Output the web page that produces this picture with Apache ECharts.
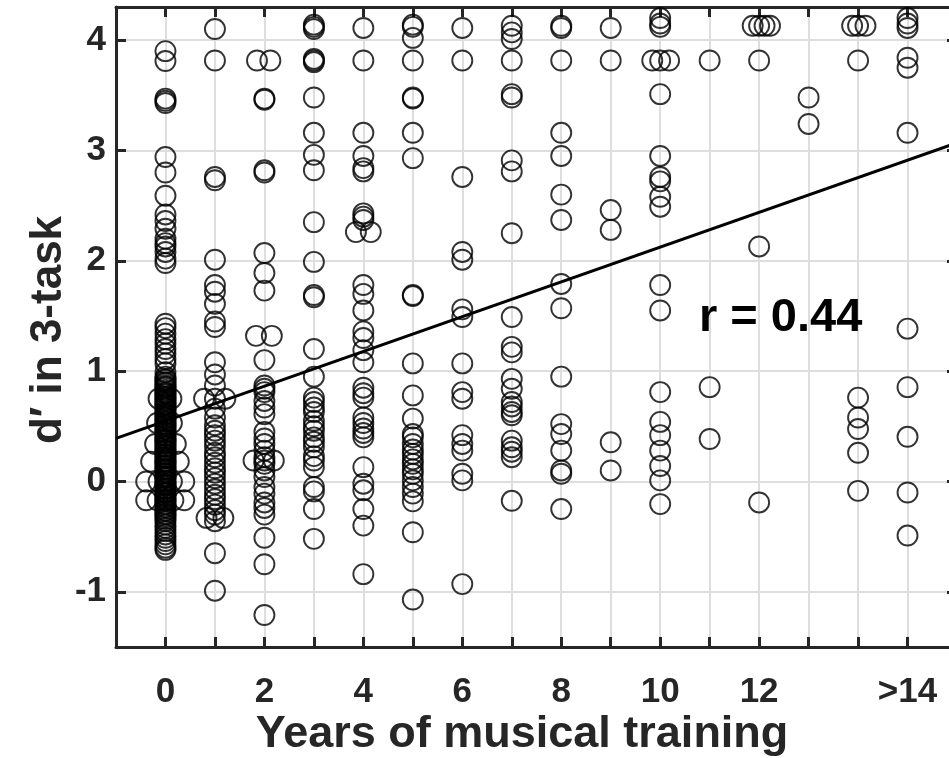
<!DOCTYPE html>
<html>
<head>
<meta charset="utf-8">
<script src="https://cdn.jsdelivr.net/npm/echarts@6/dist/echarts.min.js"></script>
<style>
  html, body { margin: 0; padding: 0; background: #ffffff; }
  #chart { width: 949px; height: 758px; }
</style>
</head>
<body>
<div id="chart"></div>
<script>
// Years of musical training (column positions; 15 is the ">14" group)
const years = [0, 1, 2, 3, 4, 5, 6, 7, 8, 9, 10, 11, 12, 13, 14, 15];

// d' scores in the 3-task, one list per training group
const dp0 = [3.90, 3.81, 3.47, 3.45, 3.43, 2.94, 2.80, 2.59, 2.42, 2.36, 2.29, 2.20, 2.16, 2.13, 2.08, 2.02, 1.98,
  1.43, 1.39, 1.34, 1.29, 1.25, 1.20, 1.16, 1.11, 1.07, 0.99, 0.95,
  0.93, 0.92, 0.90, 0.89, 0.87, 0.86, 0.85, 0.83, 0.81, 0.80, 0.79, 0.77, 0.76, 0.74, 0.73, 0.71, 0.70, 0.69,
  0.67, 0.66, 0.64, 0.62, 0.61, 0.60, 0.58, 0.57, 0.55, 0.54, 0.52, 0.51, 0.50, 0.48, 0.47, 0.45, 0.44, 0.42,
  0.41, 0.39, 0.38, 0.37, 0.35, 0.34, 0.32, 0.31, 0.29, 0.28, 0.27, 0.25, 0.24, 0.22, 0.21, 0.19, 0.18, 0.17,
  0.15, 0.14, 0.12, 0.11, 0.10, 0.08, 0.07, 0.05, 0.04, 0.03, 0.01, 0.00, -0.02, -0.03, -0.04, -0.06, -0.07,
  -0.09, -0.10, -0.11, -0.13, -0.14, -0.16, -0.17, -0.18, -0.20, -0.21, -0.23, -0.24, -0.26, -0.27, -0.29,
  -0.30, -0.32, -0.34, -0.36, -0.39, -0.42, -0.45, -0.48, -0.51, -0.54, -0.57, -0.60, -0.62];
const dp1 = [4.10, 3.815, 2.76, 2.73, 2.01, 1.78, 1.72, 1.61, 1.45, 1.40, 1.08, 0.97, 0.87, 0.75, 0.66, 0.58,
  0.51, 0.46, 0.42, 0.37, 0.32, 0.26, 0.22, 0.17, 0.12, 0.08, 0.03, -0.02, -0.07, -0.12, -0.16, -0.21, -0.26,
  -0.30, -0.36, -0.65, -0.99];
const dp2 = [3.47, 3.46, 2.82, 2.80, 2.07, 1.89, 1.73, 1.10, 0.87, 0.84, 0.81, 0.73, 0.67, 0.61, 0.45, 0.39,
  0.34, 0.28, 0.22, 0.19, 0.16, 0.10, 0.04, -0.05, -0.11, -0.19, -0.24, -0.30, -0.51, -0.75, -1.21];
const dp3 = [4.14, 4.12, 4.10, 3.83, 3.815, 3.80, 3.48, 3.16, 2.96, 2.82, 2.35, 1.99, 1.69, 1.67, 1.20, 0.95,
  0.76, 0.72, 0.67, 0.63, 0.55, 0.50, 0.46, 0.40, 0.36, 0.31, 0.23, 0.19, 0.13, -0.05, -0.09, -0.25, -0.52];
const dp4 = [4.11, 3.815, 3.16, 2.95, 2.84, 2.81, 2.43, 2.40, 2.37, 1.78, 1.70, 1.55, 1.36, 1.30, 1.19, 1.08,
  0.85, 0.80, 0.76, 0.58, 0.53, 0.48, 0.44, 0.40, 0.13, -0.02, -0.08, -0.25, -0.40, -0.84];
const dp5 = [4.14, 4.12, 4.02, 3.815, 3.48, 3.47, 3.16, 2.93, 1.69, 1.68, 1.07, 0.78, 0.57, 0.43, 0.40, 0.34,
  0.29, 0.25, 0.20, 0.16, 0.11, 0.07, 0.01, -0.05, -0.11, -0.18, -0.46, -1.07];
const dp6 = [4.11, 3.815, 2.76, 2.08, 2.01, 1.56, 1.49, 1.07, 0.81, 0.75, 0.42, 0.34, 0.28, 0.07, 0.01, -0.93];
const dp7 = [4.13, 4.07, 4.01, 3.815, 3.51, 3.48, 2.91, 2.81, 2.25, 1.49, 1.22, 1.17, 0.93, 0.84, 0.72, 0.68,
  0.63, 0.60, 0.37, 0.31, 0.27, 0.22, -0.175];
const dp8 = [4.13, 4.11, 3.815, 3.16, 2.95, 2.60, 2.37, 1.79, 1.57, 0.95, 0.52, 0.43, 0.28, 0.10, 0.07, -0.25];
const dp9 = [4.11, 3.815, 2.46, 2.28, 0.355, 0.10];
const dp10 = [4.20, 4.15, 4.12, 3.815, 3.51, 2.95, 2.76, 2.72, 2.58, 2.49, 1.78, 1.55, 0.81, 0.54, 0.42, 0.28,
  0.14, 0.01, -0.205];
const dp11 = [3.815, 0.855, 0.385];
const dp12 = [4.13, 3.815, 2.13, -0.19];
const dp13 = [3.48, 3.24];
const dp14 = [4.13, 3.815, 0.76, 0.58, 0.475, 0.26, -0.085];
const dp15 = [4.20, 4.15, 4.11, 3.84, 3.75, 3.16, 1.385, 0.855, 0.405, -0.10, -0.49];
const groups = [dp0, dp1, dp2, dp3, dp4, dp5, dp6, dp7, dp8, dp9, dp10, dp11, dp12, dp13, dp14, dp15];

// Tied scores drawn side by side around their column
const spreadYears = [-0.14, 0.12, -0.17, 0.13, -0.21, 0.21, -0.29, 0.27, -0.39, 0.38, -0.14, 0.13, -0.39, 0.38,
  -0.16, 0.16, 0.78, 1.21, 0.83, 1.17, 1.85, 2.12, 1.83, 2.15, 1.78, 2.19, 3.85, 4.15, 9.84, 10.18,
  11.87, 12.11, 12.22, 13.88, 14.15];
const spreadScores = [0.75, 0.75, 0.53, 0.53, 0.34, 0.34, 0.18, 0.18, 0.00, 0.00, 0.00, 0.00, -0.17, -0.17,
  -0.17, -0.17, 0.75, 0.75, -0.33, -0.33, 3.815, 3.815, 1.32, 1.32, 0.19, 0.19, 2.26, 2.26, 3.815, 3.815,
  4.13, 4.13, 4.13, 4.13, 4.13];

// Least-squares fit line (end points across the axis range)
const fitYears = [-1, 16];
const fitScores = [0.39, 3.07];
const corrText = 'r = 0.44';

// Labelled x ticks
const xTickValues = [0, 2, 4, 6, 8, 10, 12, 15];
const xTickText = ['0', '2', '4', '6', '8', '10', '12', '>14'];

const points = [];
groups.forEach((vals, i) => vals.forEach(v => points.push([years[i], v])));
spreadYears.forEach((x, i) => points.push([x, spreadScores[i]]));

const FONT = '"Liberation Sans", Arial, Helvetica, sans-serif';
const AXIS = '#262626';

const boxLine = { show: true, onZero: false, lineStyle: { color: AXIS, width: 3 } };
const boxTick = { show: true, inside: true, length: 10, lineStyle: { color: AXIS, width: 3 } };
const gridLine = { show: true, lineStyle: { color: '#dedede', width: 2 } };

const chart = echarts.init(document.getElementById('chart'), null, { renderer: 'canvas' });
chart.setOption({
  animation: false,
  backgroundColor: '#ffffff',
  // the plot box runs a few pixels past the right edge of the page
  grid: { left: 116, width: 841, top: 7, height: 640, containLabel: false, outerBoundsMode: 'none' },
  xAxis: [
    {
      type: 'value', min: -1, max: 16, interval: 1, position: 'bottom',
      axisLine: boxLine, axisTick: boxTick, splitLine: gridLine,
      axisLabel: {
        margin: 28, color: AXIS, fontSize: 35, fontWeight: 'bold', fontFamily: FONT,
        showMinLabel: true, showMaxLabel: true,
        formatter: v => { const k = xTickValues.indexOf(v); return k >= 0 ? xTickText[k] : ''; }
      }
    },
    {
      type: 'value', min: -1, max: 16, interval: 1, position: 'top',
      axisLine: boxLine, axisTick: boxTick, splitLine: { show: false }, axisLabel: { show: false }
    }
  ],
  yAxis: [
    {
      type: 'value', min: -1.5, max: 4.3, splitNumber: 6, position: 'left',
      axisLine: boxLine, axisTick: boxTick, splitLine: gridLine,
      axisLabel: {
        margin: 10, color: AXIS, fontSize: 35, fontWeight: 'bold', fontFamily: FONT,
        showMinLabel: false, showMaxLabel: false,
        formatter: v => (Number.isInteger(v) ? String(v) : '')
      }
    },
    {
      type: 'value', min: -1.5, max: 4.3, splitNumber: 6, position: 'right',
      axisLine: boxLine, axisTick: boxTick, splitLine: { show: false }, axisLabel: { show: false }
    }
  ],
  series: [
    {
      type: 'scatter', xAxisIndex: 0, yAxisIndex: 0, data: points,
      symbol: 'circle', symbolSize: 20, large: false,
      itemStyle: { color: 'rgba(0,0,0,0)', borderColor: '#000000', borderWidth: 1.9 },
      emphasis: { disabled: true }, silent: true, z: 3
    },
    {
      type: 'line', xAxisIndex: 0, yAxisIndex: 0,
      data: fitYears.map((x, i) => [x, fitScores[i]]),
      showSymbol: false, symbol: 'none',
      lineStyle: { color: '#000000', width: 3 }, silent: true, z: 4
    }
  ],
  graphic: [
    {
      type: 'text', x: 699, y: 295, z: 10,
      style: { text: corrText, font: 'bold 47px ' + FONT, fill: '#000000', align: 'left', verticalAlign: 'top' }
    },
    {
      type: 'text', x: 522, y: 735, z: 10,
      style: { text: 'Years of musical training', font: 'bold 45px ' + FONT, fill: AXIS, align: 'center', verticalAlign: 'middle' }
    },
    {
      type: 'text', x: 49, y: 330, rotation: Math.PI / 2, z: 10,
      style: { text: 'd\u2032 in 3-task', font: 'bold 44px ' + FONT, fill: AXIS, align: 'center', verticalAlign: 'middle' }
    }
  ]
});
</script>
</body>
</html>
